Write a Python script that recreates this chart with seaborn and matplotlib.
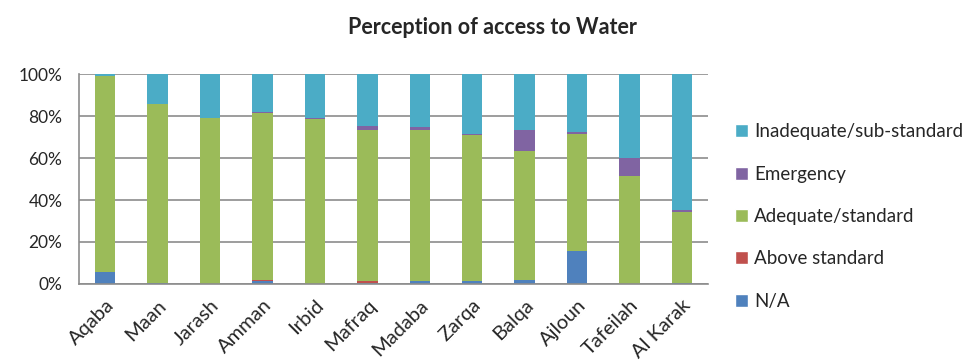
import numpy as np
import pandas as pd
import seaborn as sns
import matplotlib.pyplot as plt
from matplotlib.patches import Patch
from matplotlib.ticker import PercentFormatter

# governorates
regions = ["Aqaba", "Maan", "Jarash", "Amman", "Irbid", "Mafraq",
           "Madaba", "Zarqa", "Balqa", "Ajloun", "Tafeilah", "Al Karak"]

# shares in percent
na_vals = [5.7, 0.3, 0.0, 1.6, 0.2, 0.5, 1.3, 1.6, 1.7, 15.5, 0.0, 0.6]
above_vals = [0.0, 0.0, 0.0, 0.5, 0.0, 0.8, 0.0, 0.0, 0.0, 0.0, 0.0, 0.0]
adequate_vals = [93.3, 85.3, 79.2, 79.5, 78.4, 72.2, 72.2, 69.4, 61.5, 56.1, 51.2, 33.8]
emergency_vals = [0.0, 0.0, 0.0, 0.5, 0.5, 1.9, 1.5, 0.6, 10.0, 0.8, 9.0, 0.8]
inadequate_vals = [1.0, 14.4, 20.8, 17.9, 20.9, 24.6, 25.0, 28.4, 26.8, 27.6, 39.8, 64.8]

series_names = ["N/A", "Above standard", "Adequate/standard",
                "Emergency", "Inadequate/sub-standard"]
series_colors = ["#4F81BD", "#C0504D", "#9BBB59", "#8064A2", "#4BACC6"]

df = pd.DataFrame({
    "region": regions,
    "N/A": na_vals,
    "Above standard": above_vals,
    "Adequate/standard": adequate_vals,
    "Emergency": emergency_vals,
    "Inadequate/sub-standard": inadequate_vals,
})

# cumulative tops so each layer can be drawn over the one above it
cum = df[series_names].cumsum(axis=1)
cum = cum.div(cum["Inadequate/sub-standard"], axis=0) * 100

sns.set_style("white")
plt.rcParams["font.family"] = ["Lato", "DejaVu Sans"]

fig = plt.figure(figsize=(9.7, 3.61), dpi=100)
ax = fig.add_axes([0.0814, 0.2133, 0.6486, 0.5817])

for name, color in reversed(list(zip(series_names, series_colors))):
    sns.barplot(x=df["region"], y=cum[name], color=color, width=0.39,
                saturation=1, linewidth=0, ax=ax, zorder=2)

ax.set_ylim(0, 100)
ax.set_xlim(-0.5, len(regions) - 0.5)
ax.set_yticks(np.arange(0, 101, 20))
ax.yaxis.set_major_formatter(PercentFormatter(decimals=0))
ax.grid(axis="y", color="#8c8c8c", linewidth=1.2, zorder=0)
ax.set_axisbelow(True)
ax.set_xlabel("")
ax.set_ylabel("")
for side in ["top", "right"]:
    ax.spines[side].set_visible(False)
for side in ["left", "bottom"]:
    ax.spines[side].set_color("#8c8c8c")
    ax.spines[side].set_linewidth(1.2)
ax.tick_params(axis="y", labelsize=12.5, pad=12, length=0)
ax.tick_params(axis="x", labelsize=14.5, length=0, pad=9)
plt.setp(ax.get_xticklabels(), rotation=45, ha="right", rotation_mode="anchor")

fig.text(0.508, 0.925, "Perception of access to Water", ha="center",
         va="center", fontsize=15.5, fontweight="bold")

handles = [Patch(facecolor=c, label=n) for n, c in zip(series_names, series_colors)]
fig.legend(handles=handles[::-1], loc="center left",
           bbox_to_anchor=(0.74, 0.40), frameon=False, fontsize=13.5,
           handlelength=0.7, handleheight=0.7, handletextpad=0.35,
           labelspacing=1.35)

fig.savefig("out.png", dpi=100)
